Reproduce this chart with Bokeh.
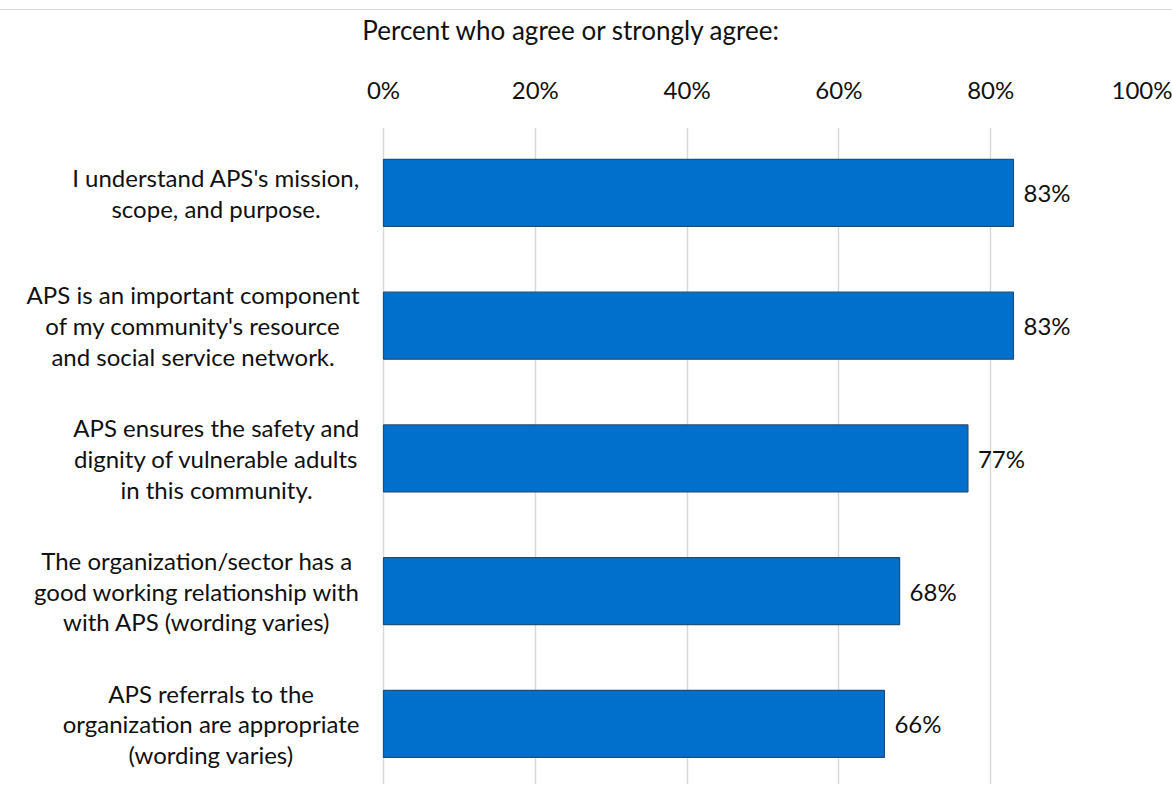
import glob
import subprocess
from bokeh.plotting import figure
from bokeh.models import Range1d, FixedTicker, ColumnDataSource
from bokeh.core.properties import value
from bokeh.embed import file_html
from bokeh.resources import INLINE

categories = [
    "I understand APS's mission,\nscope, and purpose.",
    "APS is an important component\nof my community's resource\nand social service network.",
    "APS ensures the safety and\ndignity of vulnerable adults\nin this community.",
    "The organization/sector has a\ngood working relationship with\nwith APS (wording varies)",
    "APS referrals to the\norganization are appropriate\n(wording varies)",
]
values = [83, 83, 77, 68, 66]
x_ticks = [0, 20, 40, 60, 80, 100]
title_text = "Percent who agree or strongly agree:"

FONT = "Lato"
FS_PX = 24
FS = f"{FS_PX}px"
TXT = "#111111"

# ---- layout (pixels) ----
W, H = 1172, 775
FRAME_LEFT_PX = 383          # where 0% sits on the canvas
FRAME_RIGHT_PX = 1142        # where 100% sits
PX_PER_UNIT = (FRAME_RIGHT_PX - FRAME_LEFT_PX) / 100.0
LABEL_GAP_PX = 24            # gap between category labels and the 0% line
TOP = 117
ROW_PX = 132.75
FRAME_H = H - TOP
y_top = -0.493
y_bottom = y_top + FRAME_H / ROW_PX
x_start = -FRAME_LEFT_PX / PX_PER_UNIT


def _font_path():
    try:
        out = subprocess.run(["fc-match", "-f", "%{file}", FONT], capture_output=True,
                             text=True, timeout=5).stdout.strip()
        if out:
            return out
    except Exception:
        pass
    for pat in ["/usr/share/fonts/**/Lato-Regular.*", "/usr/local/share/fonts/**/Lato-Regular.*"]:
        hits = glob.glob(pat, recursive=True)
        if hits:
            return hits[0]
    return None


_fp = _font_path()
_font = None
try:
    from PIL import ImageFont
    if _fp:
        _font = ImageFont.truetype(_fp, FS_PX)
except Exception:
    _font = None


def text_width(s):
    if _font is not None:
        return _font.getlength(s)
    return 0.5 * FS_PX * len(s)


# center of each label block so that the longest line ends next to the axis
right_edge = -LABEL_GAP_PX / PX_PER_UNIT
label_x = []
for c in categories:
    wmax = max(text_width(line) for line in c.split("\n"))
    label_x.append(right_edge - (wmax / 2.0) / PX_PER_UNIT)

pos = list(range(len(categories)))
src = ColumnDataSource(dict(
    y=pos, v=values, lab=[f"{v}%" for v in values],
    lx=[v + 10 / PX_PER_UNIT for v in values],
))
cat_src = ColumnDataSource(dict(x=label_x, y=pos, text=categories))

p = figure(width=W, height=H, output_backend="svg", toolbar_location=None,
           x_range=Range1d(x_start, 100), y_range=Range1d(y_bottom, y_top),
           x_axis_location="above", y_axis_location=None,
           min_border_left=0, min_border_right=W - FRAME_RIGHT_PX,
           min_border_top=TOP, min_border_bottom=0)
p.outline_line_color = None
p.background_fill_color = "white"
p.border_fill_color = "white"

p.hbar(y="y", right="v", left=0, height=0.505, source=src,
       fill_color="#0070CC", line_color="#1F4E79", line_width=1.2)
p.text(x="lx", y="y", text="lab", source=src, text_baseline="middle", text_align="left",
       text_font=value(FONT), text_font_size=FS, text_color=TXT)
p.text(x="x", y="y", text="text", source=cat_src, text_baseline="middle", text_align="center",
       text_font=value(FONT), text_font_size=FS, text_color=TXT, text_line_height=1.06)

xa = p.xaxis[0]
xa.ticker = FixedTicker(ticks=x_ticks)
xa.major_label_overrides = {t: f"{t}%" for t in x_ticks}
xa.axis_line_color = None
xa.major_tick_line_color = None
xa.minor_tick_line_color = None
xa.major_tick_out = 0
xa.major_label_standoff = 24
xa.major_label_text_font = FONT
xa.major_label_text_font_size = FS
xa.major_label_text_color = TXT
xa.axis_label = title_text
xa.axis_label_standoff = 26
xa.axis_label_text_font = FONT
xa.axis_label_text_font_size = "26px"
xa.axis_label_text_font_style = "normal"
xa.axis_label_text_color = TXT

p.xgrid.ticker = FixedTicker(ticks=x_ticks)
p.xgrid.grid_line_color = "#d9d9d9"
p.xgrid.grid_line_width = 1.5
p.ygrid.grid_line_color = None

p.styles = {"margin-top": "9px", "border-top": "1px solid #d9d9d9"}

open("out.html", "w").write(file_html(p, INLINE))
